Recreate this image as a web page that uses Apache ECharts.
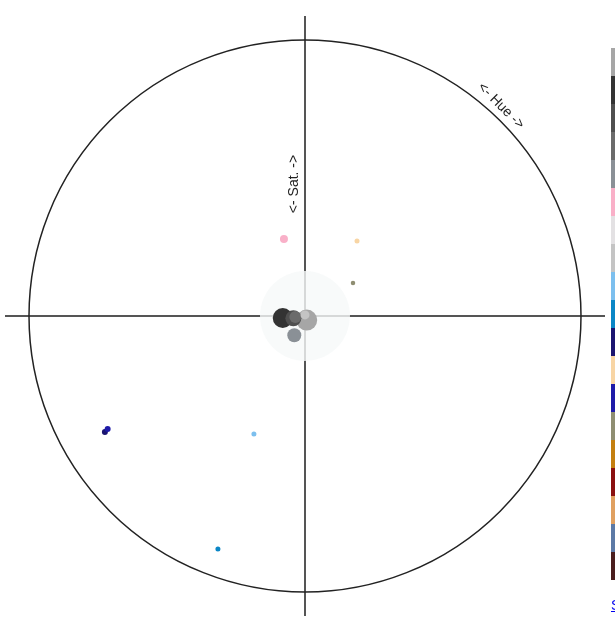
<!DOCTYPE html>
<html>
<head>
<meta charset="utf-8">
<script src="https://cdn.jsdelivr.net/npm/echarts@6/dist/echarts.min.js"></script>
<style>
html,body{margin:0;padding:0;overflow:hidden;background:#fff;width:615px;height:624px;}
#chart{width:760px;height:624px;position:absolute;left:0;top:0;}
#src{position:absolute;left:611px;top:597px;font:14px "Liberation Sans",Arial,sans-serif;color:#0000ee;text-decoration:underline;white-space:nowrap;}
</style>
</head>
<body>
<div id="chart"></div>
<a id="src" href="#">Source</a>
<script>
// Series (one per colour), as listed in the legend
const colorNames = ['#a6a6a6','#333333','#4f4f4f','#6b6b6b','#8a9096','#f9b0c8','#e3e1e3','#c4c4c4','#7cbfee','#0a86c6','#1a1470','#f8d5a4','#1e1aa8','#8f8e72','#c47f10','#8a1010','#e0a060','#5c7aa6','#4a1e1e'];
// Hue (degrees, clockwise from top); null = not drawn
const hueValues = [157, 264.9, 258.9, 264.1, 209, 344.7, null, 0, 203.4, 200.5, 239.9, 34.7, 240.2, 55.5, null, null, null, null, null];
// Saturation (0..1, distance from centre)
const satValues = [0.016, 0.081, 0.043, 0.035, 0.08, 0.289, null, 0.004, 0.466, 0.901, 0.838, 0.331, 0.824, 0.211, null, null, null, null, null];
// Marker weight (diameter)
const sizeValues = [21, 20, 16, 12, 14, 8, 0, 9, 5, 5, 6, 5, 6, 4.5, 0, 0, 0, 0, 0];
// Achromatic zone at the centre
const neutralZone = {hue: 0, sat: 0, size: 90, color: '#f6f9f9'};

const chart = echarts.init(document.getElementById('chart'), null, {renderer: 'canvas'});

const series = [{
  type: 'scatter', coordinateSystem: 'polar', polarIndex: 0, silent: true,
  symbolSize: neutralZone.size, z: 2,
  itemStyle: {color: neutralZone.color},
  data: [[neutralZone.sat, neutralZone.hue]]
}];
colorNames.forEach((c, i) => {
  const data = hueValues[i] === null ? [] : [[satValues[i], hueValues[i]]];
  series.push({
    name: c, type: 'scatter', coordinateSystem: 'polar', polarIndex: 0,
    symbolSize: sizeValues[i] || 1,
    z: 3 + Math.round(100 - sizeValues[i]),
    itemStyle: {color: c, opacity: 1},
    emphasis: {disabled: true},
    data: data
  });
});

chart.setOption({
  animation: false,
  polar: [
    {center: [305, 316], radius: 276},
    {center: [305, 316], radius: 300}
  ],
  angleAxis: [
    {polarIndex: 0, type: 'value', min: 0, max: 360, startAngle: 90, clockwise: true,
     axisLine: {show: true, lineStyle: {color: '#222', width: 1.5}},
     axisTick: {show: false}, axisLabel: {show: false}, splitLine: {show: false}},
    {polarIndex: 1, type: 'value', min: 0, max: 360, interval: 90, startAngle: 90, clockwise: true,
     axisLine: {show: false}, axisTick: {show: false}, axisLabel: {show: false},
     splitLine: {show: true, lineStyle: {color: '#555', width: 2}}}
  ],
  radiusAxis: [
    {polarIndex: 0, type: 'value', min: 0, max: 1, show: false},
    {polarIndex: 1, type: 'value', min: 0, max: 1, show: false}
  ],
  legend: {
    data: colorNames, orient: 'vertical', left: 611, top: 48, padding: 0,
    itemGap: 0, itemWidth: 20, itemHeight: 28, icon: 'rect',
    selectedMode: false, textStyle: {fontSize: 12, color: '#333'}
  },
  graphic: [
    {type: 'text', x: 294, y: 184, rotation: Math.PI / 2,
     style: {text: '<- Sat. ->', font: '14px "Liberation Sans", Arial, sans-serif', fill: '#222', align: 'center', verticalAlign: 'middle'}},
    {type: 'text', x: 501, y: 106, rotation: -Math.PI / 4,
     style: {text: '<- Hue ->', font: '14px "Liberation Sans", Arial, sans-serif', fill: '#222', align: 'center', verticalAlign: 'middle'}}
  ],
  series: series
});
</script>
</body>
</html>
